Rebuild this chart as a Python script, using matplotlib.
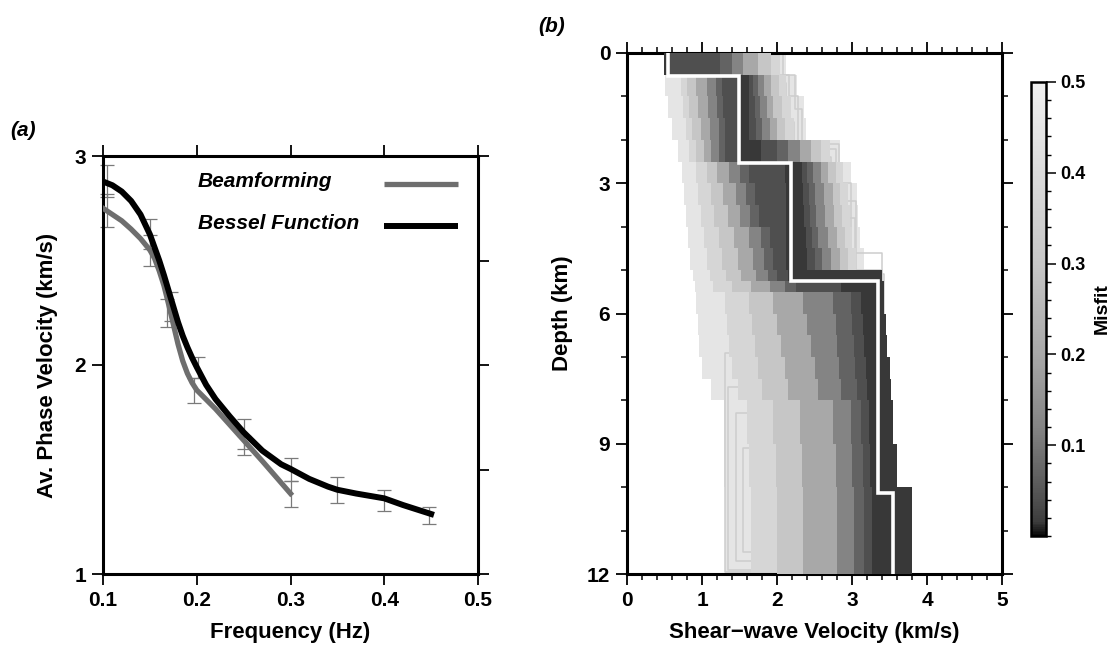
import numpy as np
import matplotlib
matplotlib.use("Agg")
import matplotlib.pyplot as plt
from matplotlib.colors import LinearSegmentedColormap, Normalize
from matplotlib.cm import ScalarMappable
from matplotlib.ticker import MultipleLocator

plt.rcParams['font.family'] = ['Liberation Sans', 'DejaVu Sans']
plt.rcParams['font.weight'] = 'bold'
plt.rcParams['axes.labelweight'] = 'bold'

# ---- panel (a): dispersion curves ----
beam_f = [0.100, 0.110, 0.120, 0.130, 0.140, 0.150, 0.155, 0.160, 0.165, 0.170,
          0.175, 0.180, 0.185, 0.190, 0.195, 0.200, 0.220, 0.250, 0.270, 0.300]
beam_v = [2.750, 2.720, 2.690, 2.650, 2.605, 2.550, 2.510, 2.450, 2.380, 2.290,
          2.195, 2.100, 2.020, 1.960, 1.915, 1.880, 1.790, 1.640, 1.540, 1.385]

bessel_f = [0.100, 0.110, 0.120, 0.130, 0.140, 0.150, 0.160, 0.165, 0.170, 0.175,
            0.180, 0.185, 0.190, 0.195, 0.200, 0.210, 0.220, 0.235, 0.250, 0.270,
            0.290, 0.300, 0.320, 0.340, 0.350, 0.370, 0.400, 0.420, 0.450]
bessel_v = [2.878, 2.860, 2.830, 2.785, 2.720, 2.625, 2.500, 2.430, 2.355, 2.280,
            2.205, 2.140, 2.085, 2.035, 1.990, 1.905, 1.837, 1.755, 1.678, 1.590,
            1.525, 1.503, 1.455, 1.418, 1.403, 1.385, 1.362, 1.330, 1.287]

beam_err_f = [0.104, 0.150, 0.168, 0.197, 0.250, 0.300]
beam_err_v = [2.740, 2.548, 2.250, 1.878, 1.615, 1.383]
beam_err_e = [0.078, 0.075, 0.068, 0.058, 0.045, 0.063]

bessel_err_f = [0.104, 0.150, 0.173, 0.201, 0.250, 0.300, 0.350, 0.400, 0.448]
bessel_err_v = [2.880, 2.627, 2.280, 1.987, 1.670, 1.500, 1.402, 1.350, 1.280]
bessel_err_e = [0.075, 0.073, 0.068, 0.050, 0.070, 0.057, 0.060, 0.050, 0.040]

# ---- panel (b): model ensemble, summarised as misfit bands ----
band_depth = [0, 0.5, 1.0, 1.5, 2.0, 2.5, 3.0, 3.5, 4.0, 4.5, 5.0, 5.25, 5.5,
              6.0, 6.5, 7.0, 7.5, 8.0, 9.0, 10.0, 12.0]
band_misfit = [0.45, 0.38, 0.30, 0.20, 0.12, 0.07, 0.04, 0.015]
deep_right = [3.40, 3.42, 3.43, 3.45, 3.47, 3.50, 3.52, 3.54, 3.60, 3.80]
band_left = [
    [0.49, 0.50, 0.54, 0.60, 0.68, 0.73, 0.76, 0.78, 0.81, 0.84, 0.88, 0.90, 0.92, 0.95, 0.96, 1.00, 1.12, 1.29, 1.29, 1.30],
    [0.49, 0.72, 0.74, 0.78, 0.82, 0.92, 0.95, 0.98, 1.02, 1.06, 1.10, 1.15, 1.30, 1.33, 1.36, 1.40, 1.48, 1.60, 1.62, 1.65],
    [0.49, 0.80, 0.83, 0.87, 0.92, 1.06, 1.12, 1.16, 1.22, 1.27, 1.32, 1.40, 1.62, 1.66, 1.70, 1.74, 1.80, 1.95, 1.98, 2.00],
    [0.49, 0.92, 0.95, 0.98, 1.02, 1.20, 1.28, 1.34, 1.42, 1.48, 1.52, 1.65, 1.95, 2.00, 2.05, 2.10, 2.15, 2.30, 2.33, 2.35],
    [0.49, 1.06, 1.08, 1.10, 1.12, 1.36, 1.45, 1.50, 1.62, 1.68, 1.72, 1.90, 2.35, 2.40, 2.45, 2.50, 2.55, 2.75, 2.78, 2.80],
    [0.49, 1.18, 1.20, 1.22, 1.22, 1.50, 1.58, 1.64, 1.78, 1.83, 1.88, 2.10, 2.75, 2.78, 2.80, 2.82, 2.85, 2.98, 3.00, 3.02],
    [0.49, 1.26, 1.28, 1.30, 1.30, 1.62, 1.70, 1.76, 1.90, 1.95, 2.00, 2.25, 2.98, 3.00, 3.02, 3.04, 3.06, 3.12, 3.14, 3.16],
    [0.49, 1.46, 1.46, 1.46, 1.46, 2.10, 2.12, 2.12, 2.12, 2.12, 2.15, 2.85, 3.12, 3.14, 3.16, 3.18, 3.20, 3.22, 3.24, 3.26],
]
band_right = [
    [2.12, 2.27, 2.36, 2.38, 2.84, 2.98, 3.07, 3.08, 3.10, 3.16] + deep_right,
    [2.04, 2.12, 2.18, 2.22, 2.70, 2.88, 2.95, 2.97, 3.00, 3.05] + deep_right,
    [1.92, 2.02, 2.06, 2.10, 2.58, 2.78, 2.84, 2.86, 2.90, 2.95] + deep_right,
    [1.75, 1.92, 1.95, 2.00, 2.45, 2.68, 2.74, 2.76, 2.80, 2.84] + deep_right,
    [1.55, 1.83, 1.86, 1.90, 2.30, 2.58, 2.62, 2.64, 2.68, 2.72] + deep_right,
    [1.40, 1.75, 1.77, 1.80, 2.15, 2.48, 2.50, 2.52, 2.55, 2.60] + deep_right,
    [1.24, 1.68, 1.70, 1.72, 2.00, 2.40, 2.42, 2.44, 2.46, 2.50] + deep_right,
    [0.56, 1.62, 1.62, 1.63, 1.78, 2.33, 2.35, 2.36, 2.38, 2.40] + deep_right,
]

# a few individual poor-fit models whose outlines show at the fringes
outline_depth = [
    [0, 0.50, 1.30, 2.10, 3.40, 5.10, 12.0],
    [0, 0.50, 1.00, 2.20, 3.00, 4.60, 12.0],
    [0, 0.70, 1.60, 2.40, 3.80, 5.00, 12.0],
    [0, 0.50, 2.50, 5.25, 7.70, 11.90, 12.0],
    [0, 0.50, 2.50, 5.25, 8.30, 11.70, 12.0],
    [0, 0.50, 2.50, 5.25, 9.10, 11.50, 12.0],
    [0, 0.50, 2.50, 5.25, 6.90, 11.95, 12.0],
]
outline_vs = [
    [2.08, 2.24, 2.33, 2.82, 3.05, 3.42],
    [1.98, 2.16, 2.28, 2.78, 2.98, 3.40],
    [1.88, 2.12, 2.22, 2.72, 3.04, 3.40],
    [0.90, 1.40, 2.10, 3.10, 1.34, 1.95],
    [0.90, 1.40, 2.10, 3.10, 1.45, 2.20],
    [0.90, 1.40, 2.10, 3.10, 1.55, 1.90],
    [0.90, 1.40, 2.10, 3.10, 1.31, 1.75],
]

best_depth = [0, 0.52, 2.54, 5.24, 10.14, 12.0]
best_vs = [0.55, 1.49, 2.18, 3.34, 3.55]

misfit_cmap = LinearSegmentedColormap.from_list(
    'misfit', [(0.0, '#0a0a0a'), (0.03, '#3c3c3c'), (0.08, '#505050'),
               (0.14, '#646464'), (0.24, '#848484'), (0.4, '#a8a8a8'),
               (0.6, '#c6c6c6'), (0.8, '#dadada'), (1.0, '#f0f0f0')])
norm = Normalize(0.0, 0.5)


def steps(edges, vals):
    d = np.repeat(edges, 2)[1:-1]
    v = np.repeat(vals, 2)
    return d, v


fig = plt.figure(figsize=(11.15, 6.48), dpi=100)
ax1 = fig.add_axes([103 / 1115, 74 / 648, 375 / 1115, 418 / 648])
ax2 = fig.add_axes([627 / 1115, 74 / 648, 375 / 1115, 521 / 648])
cax = fig.add_axes([1031 / 1115, 112 / 648, 15 / 1115, 454 / 648])

# panel (a)
ax1.errorbar(beam_err_f, beam_err_v, yerr=beam_err_e, fmt='none', ecolor='#7a7a7a',
             elinewidth=0.9, capsize=5, capthick=0.9, zorder=2, clip_on=False)
ax1.errorbar(bessel_err_f, bessel_err_v, yerr=bessel_err_e, fmt='none', ecolor='#7a7a7a',
             elinewidth=0.9, capsize=5, capthick=0.9, zorder=2, clip_on=False)
ax1.plot(beam_f, beam_v, color='#6e6e6e', lw=3.8, zorder=3)
ax1.plot(bessel_f, bessel_v, color='black', lw=4.3, zorder=4)

ax1.text(0.201, 2.878, 'Beamforming', style='italic', fontsize=15, va='center')
ax1.text(0.201, 2.678, 'Bessel Function', style='italic', fontsize=15, va='center')
ax1.plot([0.400, 0.479], [2.867, 2.867], color='#6e6e6e', lw=3.8, solid_capstyle='butt')
ax1.plot([0.400, 0.479], [2.667, 2.667], color='black', lw=4.3, solid_capstyle='butt')

ax1.set_xlim(0.1, 0.5)
ax1.set_ylim(1, 3)
ax1.set_xticks([0.1, 0.2, 0.3, 0.4, 0.5])
ax1.set_xticklabels(['0.1', '0.2', '0.3', '0.4', '0.5'])
ax1.set_yticks([1, 2, 3])
ax1.yaxis.set_minor_locator(MultipleLocator(0.5))
ax1.tick_params(which='both', direction='out', length=8, width=1.3, labelsize=15,
                top=True, right=True, pad=4)
ax1.tick_params(axis='y', which='minor', left=False, right=True, length=8, width=1.3)
ax1.set_xlabel('Frequency (Hz)', fontsize=16, labelpad=9)
ax1.set_ylabel('Av. Phase Velocity (km/s)', fontsize=16, labelpad=12)
for s in ax1.spines.values():
    s.set_linewidth(2.2)

# panel (b)
for i, (m, lv, rv) in enumerate(zip(band_misfit, band_left, band_right)):
    d, l = steps(band_depth, lv)
    _, r = steps(band_depth, rv)
    ax2.fill_betweenx(d, l, r, color=misfit_cmap(norm(m)), lw=0, zorder=1 + i)
    if i == 0:
        for od, ov in zip(outline_depth, outline_vs):
            sd, sv = steps(od, ov)
            ax2.plot(sv, sd, color='#cdcdcd', lw=1.1, zorder=1.5)

bd, bv = steps(best_depth, best_vs)
ax2.plot(bv, bd, color='white', lw=2.6, zorder=20, solid_joinstyle='miter')

ax2.set_xlim(0, 5)
ax2.set_ylim(12, 0)
ax2.set_xticks([0, 1, 2, 3, 4, 5])
ax2.xaxis.set_minor_locator(MultipleLocator(0.2))
ax2.set_yticks([0, 3, 6, 9, 12])
ax2.yaxis.set_minor_locator(MultipleLocator(1))
ax2.tick_params(which='major', direction='out', length=8, width=1.3, labelsize=15,
                top=True, right=True, pad=4)
ax2.tick_params(which='minor', direction='out', length=4.5, width=1.1,
                top=True, right=True)
ax2.set_xlabel('Shear\u2212wave Velocity (km/s)', fontsize=16, labelpad=9)
ax2.set_ylabel('Depth (km)', fontsize=16, labelpad=10)
for s in ax2.spines.values():
    s.set_linewidth(2.2)

# colorbar
cb = fig.colorbar(ScalarMappable(norm=norm, cmap=misfit_cmap), cax=cax,
                  ticks=[0.1, 0.2, 0.3, 0.4, 0.5])
cb.ax.set_yticklabels(['0.1', '0.2', '0.3', '0.4', '0.5'])
cb.ax.yaxis.set_minor_locator(MultipleLocator(0.02))
cb.ax.tick_params(which='major', direction='out', length=7, width=1.1, labelsize=13)
cb.ax.tick_params(which='minor', direction='out', length=3.5, width=1.0)
cb.outline.set_linewidth(1.8)
cb.set_label('Misfit', fontsize=14, fontweight='bold', labelpad=6)

fig.text(10 / 1115, 1 - 130 / 648, '(a)', style='italic', fontsize=15, va='center')
fig.text(538 / 1115, 1 - 26 / 648, '(b)', style='italic', fontsize=15, va='center')

fig.savefig('out.png', dpi=100)
